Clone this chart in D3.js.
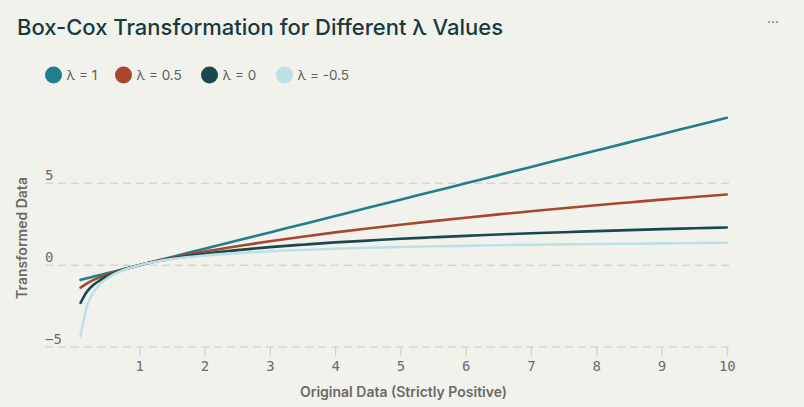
<!DOCTYPE html>
<html>
<head>
<meta charset="utf-8">
<script src="https://cdn.jsdelivr.net/npm/d3@7"></script>
<style>
  html, body { margin: 0; padding: 0; background: #f2f2ed; }
  svg { display: block; }
</style>
</head>
<body>
<div id="app"></div>
<script>
// data
const xValues = [0.1, 0.2, 0.3, 0.4, 0.5, 0.6, 0.8, 1.0, 1.25, 1.5, 2, 2.5, 3, 3.5, 4, 4.5, 5, 5.5, 6, 6.5, 7, 7.5, 8, 8.5, 9, 9.5, 10]
const lambda1 = [-0.9, -0.8, -0.7, -0.6, -0.5, -0.4, -0.2, 0, 0.25, 0.5, 1, 1.5, 2, 2.5, 3, 3.5, 4, 4.5, 5, 5.5, 6, 6.5, 7, 7.5, 8, 8.5, 9]
const lambdaHalf = [-1.37, -1.11, -0.9, -0.73, -0.59, -0.45, -0.21, 0, 0.24, 0.45, 0.83, 1.16, 1.46, 1.74, 2.0, 2.24, 2.47, 2.69, 2.9, 3.1, 3.29, 3.48, 3.66, 3.83, 4.0, 4.16, 4.32]
const lambda0 = [-2.3, -1.61, -1.2, -0.92, -0.69, -0.51, -0.22, 0, 0.22, 0.41, 0.69, 0.92, 1.1, 1.25, 1.39, 1.5, 1.61, 1.7, 1.79, 1.87, 1.95, 2.01, 2.08, 2.14, 2.2, 2.25, 2.3]
const lambdaNegHalf = [-4.32, -2.47, -1.65, -1.16, -0.83, -0.58, -0.24, 0, 0.21, 0.37, 0.59, 0.73, 0.85, 0.93, 1.0, 1.06, 1.11, 1.15, 1.18, 1.22, 1.24, 1.27, 1.29, 1.31, 1.33, 1.35, 1.37]

const seriesNames = ['λ = 1', 'λ = 0.5', 'λ = 0', 'λ = -0.5']
const seriesValues = [lambda1, lambdaHalf, lambda0, lambdaNegHalf]
const colors = ['#1f7f8c', '#a8472c', '#1b474e', '#bde0e7']

const xTicks = [1, 2, 3, 4, 5, 6, 7, 8, 9, 10]
const yTicks = [-5, 0, 5]

const w = 804
const h = 407

const svg = d3.select('#app')
  .append('svg')
  .attr('width', w)
  .attr('height', h)
  .style('background', '#f2f2ed')

// escalas
const xScale = d3.scaleLinear()
  .domain([1, 10])
  .range([139.3, 726.8])

const yScale = d3.scaleLinear()
  .domain([-5, 5])
  .range([347, 183.3])

const gridLeft = 45
const gridRight = 731

// title
svg.append('text')
  .attr('x', 17)
  .attr('y', 35)
  .attr('font-family', 'Inter, sans-serif')
  .attr('font-size', 22)
  .attr('font-weight', 500)
  .attr('fill', '#173a40')
  .text('Box-Cox Transformation for Different λ Values')

svg.append('text')
  .attr('x', 773)
  .attr('y', 27)
  .attr('text-anchor', 'middle')
  .attr('font-family', 'Inter, sans-serif')
  .attr('font-size', 14)
  .attr('font-weight', 400)
  .attr('fill', '#666')
  .text('···')

// legend
const legendX = [53.5, 123.5, 209.5, 284.5]
const legend = svg.append('g')
  .selectAll('g')
  .data(seriesNames)
  .enter()
  .append('g')
  .attr('transform', (d, i) => `translate(${legendX[i]}, 75)`)

legend.append('circle')
  .attr('r', 8.5)
  .attr('fill', (d, i) => colors[i])

legend.append('text')
  .attr('x', 13)
  .attr('y', 5)
  .attr('font-family', 'Inter, sans-serif')
  .attr('font-size', 13.5)
  .attr('fill', '#5f5f5f')
  .text(d => d)

// grid lines
svg.append('g')
  .selectAll('line')
  .data(yTicks)
  .enter()
  .append('line')
  .attr('x1', gridLeft)
  .attr('x2', gridRight)
  .attr('y1', d => yScale(d))
  .attr('y2', d => yScale(d))
  .attr('stroke', '#d7d7d1')
  .attr('stroke-width', 1.5)
  .attr('stroke-dasharray', '8,5')

svg.append('g')
  .selectAll('text')
  .data(yTicks)
  .enter()
  .append('text')
  .attr('x', gridLeft)
  .attr('y', d => yScale(d) - 3)
  .attr('font-family', '"DejaVu Sans Mono", monospace')
  .attr('font-size', 14)
  .attr('fill', '#6b6b6b')
  .text(d => d < 0 ? '−' + Math.abs(d) : d)

// x axis
const xAxis = d3.axisBottom(xScale)
  .tickValues(xTicks)
  .tickSize(9)
  .tickPadding(5)
  .tickFormat(d3.format('d'))

const gx = svg.append('g')
  .attr('transform', `translate(0, ${yScale(-5)})`)
  .call(xAxis)
gx.select('.domain').remove()
gx.selectAll('.tick line').attr('stroke', '#d0d0ca').attr('stroke-width', 1.2)
gx.selectAll('.tick text')
  .attr('font-family', '"DejaVu Sans Mono", monospace')
  .attr('font-size', 14)
  .attr('fill', '#6b6b6b')

// axis titles
svg.append('text')
  .attr('x', 403.5)
  .attr('y', 397)
  .attr('text-anchor', 'middle')
  .attr('font-family', 'Inter, sans-serif')
  .attr('font-size', 14)
  .attr('font-weight', 600)
  .attr('fill', '#6a6a6a')
  .text('Original Data (Strictly Positive)')

svg.append('text')
  .attr('transform', 'translate(27, 238) rotate(-90)')
  .attr('text-anchor', 'middle')
  .attr('font-family', 'Inter, sans-serif')
  .attr('font-size', 14)
  .attr('font-weight', 600)
  .attr('fill', '#6a6a6a')
  .text('Transformed Data')

// lines
const line = d3.line()
  .x((d, i) => xScale(xValues[i]))
  .y(d => yScale(d))
  .curve(d3.curveMonotoneX)

svg.append('g')
  .selectAll('path')
  .data(seriesValues)
  .enter()
  .append('path')
  .attr('d', d => line(d))
  .attr('fill', 'none')
  .attr('stroke', (d, i) => colors[i])
  .attr('stroke-width', 2.6)
  .attr('stroke-linejoin', 'round')
  .attr('stroke-linecap', 'round')
</script>
</body>
</html>
